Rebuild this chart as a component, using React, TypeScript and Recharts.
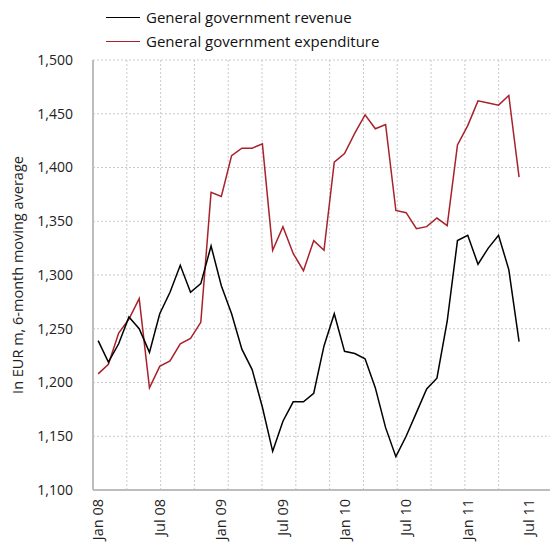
import React from "react";
import {
  LineChart, Line, XAxis, YAxis, CartesianGrid,
} from "recharts";

// monthly, Jan 08 .. Jun 11
const revenue = [
  1239, 1219, 1236, 1261, 1250, 1228, 1264, 1284, 1309, 1284, 1292, 1327,
  1290, 1264, 1231, 1212, 1177, 1136, 1164, 1182, 1182, 1190, 1234, 1264,
  1229, 1227, 1222, 1195, 1158, 1131, 1150, 1172, 1194, 1204, 1257, 1332,
  1337, 1310, 1325, 1337, 1305, 1238,
];
const expenditure = [
  1208, 1217, 1246, 1259, 1278, 1195, 1215, 1220, 1236, 1241, 1256, 1377,
  1373, 1411, 1418, 1418, 1422, 1323, 1345, 1320, 1304, 1332, 1323, 1405,
  1413, 1432, 1449, 1436, 1440, 1360, 1358, 1343, 1345, 1353, 1346, 1421,
  1439, 1462, 1460, 1458, 1467, 1391,
];

const tickLabels = ["Jan 08", "Jul 08", "Jan 09", "Jul 09", "Jan 10", "Jul 10", "Jan 11", "Jul 11"];
const yTicks = [1100, 1150, 1200, 1250, 1300, 1350, 1400, 1450, 1500];
const gridMonths = [0, 3, 6, 9, 12, 15, 18, 21, 24, 27, 30, 33, 36, 39, 42, 45];

// each month sits in the middle of its slot on the axis
const data = revenue.map((r, i) => ({ m: i + 0.5, revenue: r, expenditure: expenditure[i] }));
const xTicks = tickLabels.map((_, i) => i * 6 + 0.5);

const FONT = "'Open Sans', sans-serif";
const RED = "#a8212b";
const GRID = "#c9c9c9";

function MonthTick({ x, y, payload }: any) {
  const label = tickLabels[Math.round((payload.value - 0.5) / 6)];
  return (
    <text
      x={x}
      y={y + 1}
      transform={`rotate(-90, ${x}, ${y + 1})`}
      textAnchor="end"
      dy="0.35em"
      fontSize={14.5}
      fill="#222"
      fontFamily={FONT}
    >
      {label}
    </text>
  );
}

function YTitle({ viewBox }: any) {
  const cx = 18;
  const cy = viewBox.y + viewBox.height / 2;
  return (
    <text
      x={cx}
      y={cy}
      transform={`rotate(-90, ${cx}, ${cy})`}
      textAnchor="middle"
      dy="0.35em"
      fontSize={14.5}
      fill="#222"
      fontFamily={FONT}
    >
      In EUR m, 6-month moving average
    </text>
  );
}

function LegendRow({ color, text, top }: { color: string; text: string; top: number }) {
  return (
    <div style={{ position: "absolute", left: 106, top, display: "flex", alignItems: "center" }}>
      <div style={{ width: 34, height: 0, borderTop: `1.5px solid ${color}`, marginRight: 6 }} />
      <span style={{ fontFamily: FONT, fontSize: 15, color: "#111", whiteSpace: "nowrap" }}>{text}</span>
    </div>
  );
}

export default function App() {
  return (
    <div style={{ position: "absolute", left: 0, top: 0, width: 550, height: 548, overflow: "hidden", background: "#fff" }}>
      <LegendRow color="#000" text="General government revenue" top={7} />
      <LegendRow color={RED} text="General government expenditure" top={31} />
      <LineChart
        width={560}
        height={548}
        data={data}
        margin={{ top: 60, right: 5, left: 8, bottom: 0 }}
        style={{ fontFamily: FONT }}
      >
        <XAxis xAxisId="grid" type="number" domain={[0, 45]} ticks={gridMonths} hide />
        <CartesianGrid xAxisId="grid" stroke={GRID} strokeDasharray="2 2" />
        <XAxis
          type="number"
          dataKey="m"
          domain={[0, 45]}
          ticks={xTicks}
          interval={0}
          height={58}
          tick={<MonthTick />}
          tickLine={false}
          axisLine={{ stroke: "#bdbdbd", strokeWidth: 2 }}
        />
        <YAxis
          domain={[1100, 1500]}
          ticks={yTicks}
          interval={0}
          width={85}
          tickLine={false}
          tickMargin={14}
          tickFormatter={(v) => v.toLocaleString("en-US")}
          tick={{ fill: "#222", fontSize: 14 }}
          axisLine={{ stroke: "#bdbdbd", strokeWidth: 2 }}
          label={<YTitle />}
        />
        <Line dataKey="expenditure" stroke={RED} strokeWidth={1.5} dot={false} isAnimationActive={false} />
        <Line dataKey="revenue" stroke="#000" strokeWidth={1.5} dot={false} isAnimationActive={false} />
      </LineChart>
    </div>
  );
}
